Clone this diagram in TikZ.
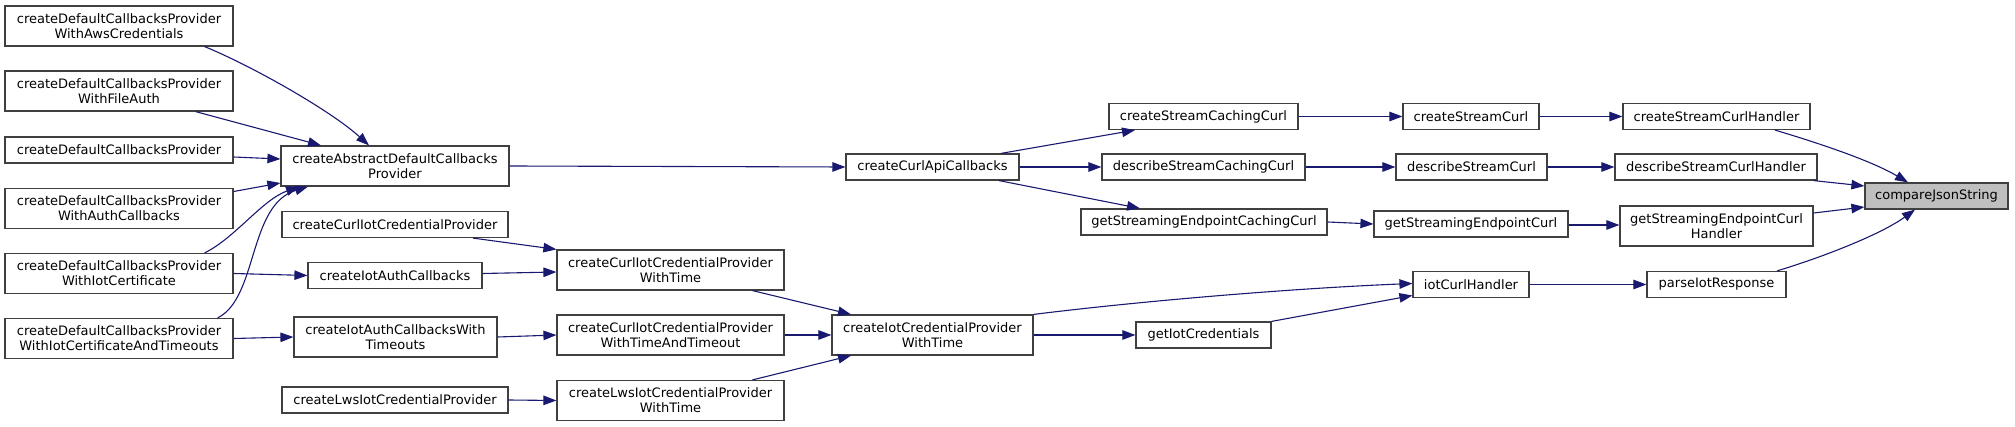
\documentclass[tikz,border=0pt]{standalone}
\usepackage{fontspec}
\setmainfont{DejaVu Sans}
\usepackage{tikz}
\usetikzlibrary{arrows.meta,positioning,calc}
\usepackage{xcolor}
\definecolor{cgedge}{HTML}{191970}
\definecolor{cgframe}{HTML}{404040}
\definecolor{cgfill}{HTML}{BFBFBF}
\tikzset{
  cgnode/.style={draw=cgframe, line width=1.2pt, fill=white, rectangle, inner sep=0pt,
    align=center, font=\fontsize{13}{15}\selectfont},
  cgone/.style={cgnode, minimum height=26pt},
  cgtwo/.style={cgnode, minimum height=40pt},
  cghl/.style={cgone, fill=cgfill},
  cgarrow/.style={-{Triangle[length=13pt,width=9.5pt]}, draw=cgedge, line width=1.1pt},
}

\begin{document}
\begin{tikzpicture}[x=1pt, y=-1pt]
  \useasboundingbox (0,0) rectangle (2015,427);

  % callers, leftmost rank
  \node[cgtwo, minimum width=228pt] (A1) at (119,26)    {createDefaultCallbacksProvider\\WithAwsCredentials};
  \node[cgtwo, minimum width=228pt] (A2) at (119,91)    {createDefaultCallbacksProvider\\WithFileAuth};
  \node[cgone, minimum width=228pt] (A3) at (119,150)   {createDefaultCallbacksProvider};
  \node[cgtwo, minimum width=228pt] (A4) at (119,208.5) {createDefaultCallbacksProvider\\WithAuthCallbacks};
  \node[cgtwo, minimum width=228pt] (A5) at (119,273.5) {createDefaultCallbacksProvider\\WithIotCertificate};
  \node[cgtwo, minimum width=228pt] (A6) at (119,338.5) {createDefaultCallbacksProvider\\WithIotCertificateAndTimeouts};

  \node[cgtwo, minimum width=228pt] (B1) at (395,166)   {createAbstractDefaultCallbacks\\Provider};
  \node[cgone, minimum width=226pt] (B2) at (395,224.5) {createCurlIotCredentialProvider};
  \node[cgone, minimum width=174pt] (B3) at (395,275.5) {createIotAuthCallbacks};
  \node[cgtwo, minimum width=203pt] (B4) at (395.5,337) {createIotAuthCallbacksWith\\Timeouts};
  \node[cgone, minimum width=226pt] (B5) at (395,400)   {createLwsIotCredentialProvider};

  \node[cgtwo, minimum width=227pt] (C1) at (670.5,270)   {createCurlIotCredentialProvider\\WithTime};
  \node[cgtwo, minimum width=227pt] (C2) at (670.5,335)   {createCurlIotCredentialProvider\\WithTimeAndTimeout};
  \node[cgtwo, minimum width=227pt] (C3) at (670.5,400.5) {createLwsIotCredentialProvider\\WithTime};

  \node[cgone, minimum width=173pt] (D1) at (932.5,167) {createCurlApiCallbacks};
  \node[cgtwo, minimum width=201pt] (D2) at (932.5,335) {createIotCredentialProvider\\WithTime};

  \node[cgone, minimum width=189pt] (E1) at (1203.5,116.5) {createStreamCachingCurl};
  \node[cgone, minimum width=203pt] (E2) at (1203.5,167)   {describeStreamCachingCurl};
  \node[cgone, minimum width=246pt] (E3) at (1204,222)     {getStreamingEndpointCachingCurl};
  \node[cgone, minimum width=135pt] (E4) at (1203.5,335)   {getIotCredentials};

  \node[cgone, minimum width=136pt] (F1) at (1471,116.5)   {createStreamCurl};
  \node[cgone, minimum width=151pt] (F2) at (1471.5,167)   {describeStreamCurl};
  \node[cgone, minimum width=194pt] (F3) at (1471,224)     {getStreamingEndpointCurl};
  \node[cgone, minimum width=116pt] (F4) at (1471,284.5)   {iotCurlHandler};

  \node[cgone, minimum width=187pt] (G1) at (1716.5,116.5) {createStreamCurlHandler};
  \node[cgone, minimum width=202pt] (G2) at (1716,167)     {describeStreamCurlHandler};
  \node[cgtwo, minimum width=193pt] (G3) at (1716.5,226)   {getStreamingEndpointCurl\\Handler};
  \node[cgone, minimum width=139pt] (G4) at (1716.5,284.5) {parseIotResponse};

  \node[cghl, minimum width=143pt] (H) at (1936.5,196) {compareJsonString};

  % edges into createAbstractDefaultCallbacksProvider
  \draw[cgarrow] ([xshift=-29pt]A1.south east) .. controls (250,65) and (330,110) .. ([xshift=-26pt]B1.north);
  \draw[cgarrow] ([xshift=-38pt]A2.south east) -- ([xshift=-74pt]B1.north);
  \draw[cgarrow] ([yshift=-7pt]A3.east) -- ([yshift=7pt]B1.west);
  \draw[cgarrow] ([yshift=17pt]A4.east) -- ([yshift=-17pt]B1.west);
  \draw[cgarrow] ([xshift=-29pt]A5.north east) .. controls (235,238) and (262,200) .. ([xshift=-96pt]B1.south);
  \draw[cgarrow] ([xshift=-16pt]A6.north east) .. controls (258,298) and (248,205) .. ([xshift=-87pt]B1.south);
  \draw[cgarrow] (A5.east) -- (B3.west);
  \draw[cgarrow] (A6.east) -- (B4.west);

  \draw[cgarrow] (B1.east) -- (D1.west);
  \draw[cgarrow] ([xshift=78pt]B2.south) -- (C1.north west);
  \draw[cgarrow] ([yshift=2pt]B3.east) -- ([yshift=-2pt]C1.west);
  \draw[cgarrow] (B4.east) -- (C2.west);
  \draw[cgarrow] (B5.east) -- (C3.west);

  \draw[cgarrow] ([xshift=82pt]C1.south) -- ([xshift=-81.5pt]D2.north);
  \draw[cgarrow] (C2.east) -- (D2.west);
  \draw[cgarrow] ([xshift=82pt]C3.north) -- ([xshift=-81.5pt]D2.south);

  \draw[cgarrow] ([xshift=68.5pt]D1.north) -- ([xshift=-68.5pt]E1.south);
  \draw[cgarrow] (D1.east) -- (E2.west);
  \draw[cgarrow] ([xshift=66.5pt]D1.south) -- ([xshift=-64pt]E3.north);
  \draw[cgarrow] (D2.north east) .. controls (1150,300) and (1300,288) .. ([yshift=1pt]F4.west);
  \draw[cgarrow] (D2.east) -- (E4.west);
  \draw[cgarrow] (E4.north east) -- ([yshift=-11pt]F4.west);

  \draw[cgarrow] (E1.east) -- (F1.west);
  \draw[cgarrow] (E2.east) -- (F2.west);
  \draw[cgarrow] (E3.east) -- (F3.west);

  \draw[cgarrow] (F1.east) -- (G1.west);
  \draw[cgarrow] (F2.east) -- (G2.west);
  \draw[cgarrow] ([yshift=-1pt]F3.east) -- ([yshift=1pt]G3.west);
  \draw[cgarrow] (F4.east) -- (G4.west);

  % into compareJsonString
  \draw[cgarrow] ([xshift=58.5pt]G1.south) .. controls (1815,142) and (1870,160) .. ([xshift=-28.5pt]H.north);
  \draw[cgarrow] ([xshift=-4pt]G2.south east) -- ([yshift=10pt]H.west);
  \draw[cgarrow] ([yshift=13pt]G3.east) -- ([yshift=-11pt]H.west);
  \draw[cgarrow] ([xshift=60.5pt]G4.north) .. controls (1820,258) and (1880,235) .. ([xshift=-21.5pt]H.south);
\end{tikzpicture}
\end{document}
